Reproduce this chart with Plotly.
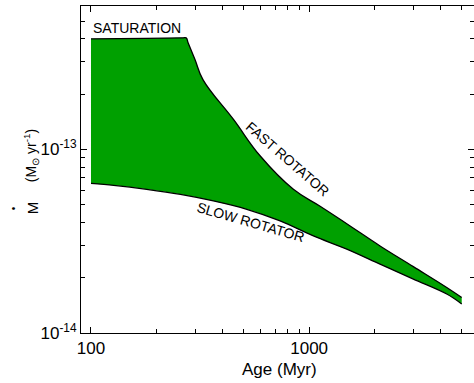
import numpy as np
import plotly.graph_objects as go

# Upper envelope (saturation + fast rotator), Myr and Msun/yr
fast_age = [100, 180, 262, 273, 279, 300, 326, 450, 597, 847, 1123, 1541, 2114, 3004, 4274, 5006]
fast_mdot = [4.0e-13, 4.02e-13, 4.05e-13, 4.05e-13, 3.8e-13, 3.08e-13, 2.40e-13, 1.456e-13,
             9.2e-14, 6.06e-14, 4.9e-14, 3.83e-14, 2.98e-14, 2.30e-14, 1.77e-14, 1.56e-14]

# Lower envelope (slow rotator)
slow_age = [100, 127, 180, 257, 364, 518, 736, 1046, 1488, 2114, 3004, 4274, 5006]
slow_mdot = [6.53e-14, 6.37e-14, 6.06e-14, 5.69e-14, 5.24e-14, 4.72e-14, 4.08e-14,
             3.38e-14, 2.86e-14, 2.37e-14, 1.966e-14, 1.63e-14, 1.44e-14]

x_major = [100, 1000]
x_major_text = ["100", "1000"]
x_minor = [200, 300, 400, 500, 600, 700, 800, 900, 2000, 3000, 4000, 5000]
y_major = [1e-14, 1e-13]
y_major_text = ["10<sup>-14</sup>", "10<sup>-13</sup>"]
y_minor = [2e-14, 3e-14, 4e-14, 5e-14, 6e-14, 7e-14, 8e-14, 9e-14,
           2e-13, 3e-13, 4e-13, 5e-13, 6e-13]

FONT = "Liberation Sans, Arial, Helvetica, sans-serif"
GREEN = "#00a000"

fig = go.Figure()
fig.add_trace(go.Scatter(x=slow_age, y=slow_mdot, mode="lines",
                         line=dict(color="black", width=1.3, shape="spline", smoothing=1.0),
                         showlegend=False, hoverinfo="skip"))
fig.add_trace(go.Scatter(x=fast_age, y=fast_mdot, mode="lines", fill="tonexty",
                         fillcolor=GREEN,
                         line=dict(color="black", width=1.3, shape="spline", smoothing=1.2),
                         showlegend=False, hoverinfo="skip"))

L, T, W, H = 80.7, 6.3, 474, 383
B = 333.0
pw = W - L
ph = B - T

def px(xp):
    return (xp - L) / pw

def py(yp):
    return (B - yp) / ph

axis_common = dict(
    type="log", showgrid=False, zeroline=False,
    showline=True, linecolor="black", linewidth=1,
    ticks="inside", ticklen=6, tickwidth=1, tickcolor="black",
    mirror="allticks",
    tickfont=dict(family=FONT, size=17, color="black"),
)

fig.update_layout(
    width=W, height=H,
    margin=dict(l=L, r=0, t=T, b=H - B),
    paper_bgcolor="white", plot_bgcolor="white",
    xaxis=dict(range=[1.9542, 3.7558], tickmode="array", tickvals=x_major,
               ticktext=x_major_text,
               minor=dict(tickmode="array", tickvals=x_minor, ticks="inside",
                          ticklen=4, tickcolor="black", tickwidth=1),
               **axis_common),
    yaxis=dict(range=[-14.0, -12.219], tickmode="array", tickvals=y_major,
               ticktext=y_major_text,
               minor=dict(tickmode="array", tickvals=y_minor, ticks="inside",
                          ticklen=4, tickcolor="black", tickwidth=1),
               **axis_common),
    font=dict(family=FONT, color="black"),
)

ann_font = dict(family=FONT, size=14, color="black")
fig.add_annotation(text="SATURATION", x=np.log10(100), y=-12.339, xref="x", yref="y",
                   xanchor="left", yanchor="middle", showarrow=False, font=ann_font)
fig.add_annotation(text="FAST ROTATOR", x=2.9015, y=-13.054, xref="x", yref="y",
                   textangle=41, showarrow=False, font=ann_font)
fig.add_annotation(text="SLOW ROTATOR", x=2.7297, y=-13.398, xref="x", yref="y",
                   textangle=16, showarrow=False, font=ann_font)

fig.add_annotation(text="Age (Myr)", x=px(279.2), y=py(369), xref="paper", yref="paper",
                   xanchor="center", yanchor="middle", showarrow=False,
                   font=dict(family=FONT, size=17, color="black"))
# y-axis title: M with a separate dot above it, then the units
fig.add_annotation(text="M", x=px(32.5), y=py(207.5), xref="paper", yref="paper",
                   xanchor="center", yanchor="middle", textangle=-90, showarrow=False,
                   font=dict(family=FONT, size=15, color="black"))
fig.add_annotation(text="•", x=px(14), y=py(208), xref="paper", yref="paper",
                   xanchor="center", yanchor="middle", textangle=-90, showarrow=False,
                   font=dict(family=FONT, size=10, color="black"))
fig.add_annotation(text="(M<sub>⊙</sub> yr<sup>-1</sup>)", x=px(31), y=py(156),
                   xref="paper", yref="paper",
                   xanchor="center", yanchor="middle", textangle=-90, showarrow=False,
                   font=dict(family=FONT, size=14, color="black"))

fig.write_html("out.html", config={"displayModeBar": False},
               post_script="document.body.style.margin='0';document.body.style.overflow='hidden';")
